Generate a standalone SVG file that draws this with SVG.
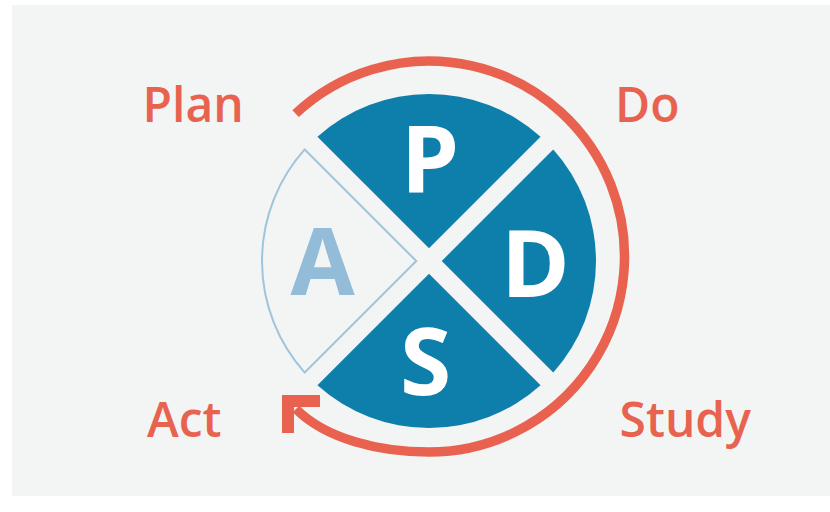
<svg xmlns="http://www.w3.org/2000/svg" width="830" height="512" viewBox="0 0 830 512">
  <style>
    .sector { fill: #0e7fab; }
    .sector-a { fill: #f3f4f4; stroke: #9fc5dc; stroke-width: 2; }
    .letter { font-family: "Open Sans", "Noto Sans", "Liberation Sans", sans-serif; font-weight: 700; font-size: 93px; fill: #ffffff; text-anchor: middle; }
    .letter-a { fill: #93bcd8; }
    .label { font-family: "Open Sans", "Noto Sans", "Liberation Sans", sans-serif; font-weight: 600; font-size: 48px; fill: #e8634f; }
    .cycle { fill: none; stroke: #e9624f; stroke-width: 9.5; stroke-linecap: butt; }
  </style>
  <defs>
    <marker id="chevron" markerUnits="userSpaceOnUse" markerWidth="45" markerHeight="60" refX="20.2" refY="30" orient="auto" overflow="visible">
      <path d="M40,30 L13.13,56.87 L4.64,48.38 L23.03,30 L4.64,11.62 L13.13,3.13 Z" fill="#e9624f"/>
    </marker>
  </defs>
  <rect x="0" y="0" width="830" height="512" fill="#ffffff"/>
  <rect x="12" y="5" width="818" height="491" fill="#f3f4f4"/>

  <g id="connectors">
    <path class="cycle" d="M295.6,113.6 A195.5,195.5 0 1 1 429,452 C379,452 326,439 296,409" marker-end="url(#chevron)"/>
  </g>

  <g id="node-plan">
    <path class="sector" d="M429,248.27 L317.45,136.72 A167,167 0 0 1 540.55,136.72 Z"/>
    <text class="letter" x="430" y="193">P</text>
  </g>
  <g id="node-do">
    <path class="sector" d="M441.73,261 L553.28,149.45 A167,167 0 0 1 553.28,372.55 Z"/>
    <text class="letter" x="535.5" y="297">D</text>
  </g>
  <g id="node-study">
    <path class="sector" d="M429,273.73 L540.55,385.28 A167,167 0 0 1 317.45,385.28 Z"/>
    <text class="letter" x="425.5" y="395">S</text>
  </g>
  <g id="node-act">
    <path class="sector-a" d="M416.27,261 L304.72,372.55 A167,167 0 0 1 304.72,149.45 Z"/>
    <text class="letter letter-a" x="322.5" y="295">A</text>
  </g>

  <g id="labels">
    <text class="label" x="142.5" y="122">Plan</text>
    <text class="label" x="615" y="122">Do</text>
    <text class="label" x="147" y="437">Act</text>
    <text class="label" x="619.5" y="437">Study</text>
  </g>
</svg>
